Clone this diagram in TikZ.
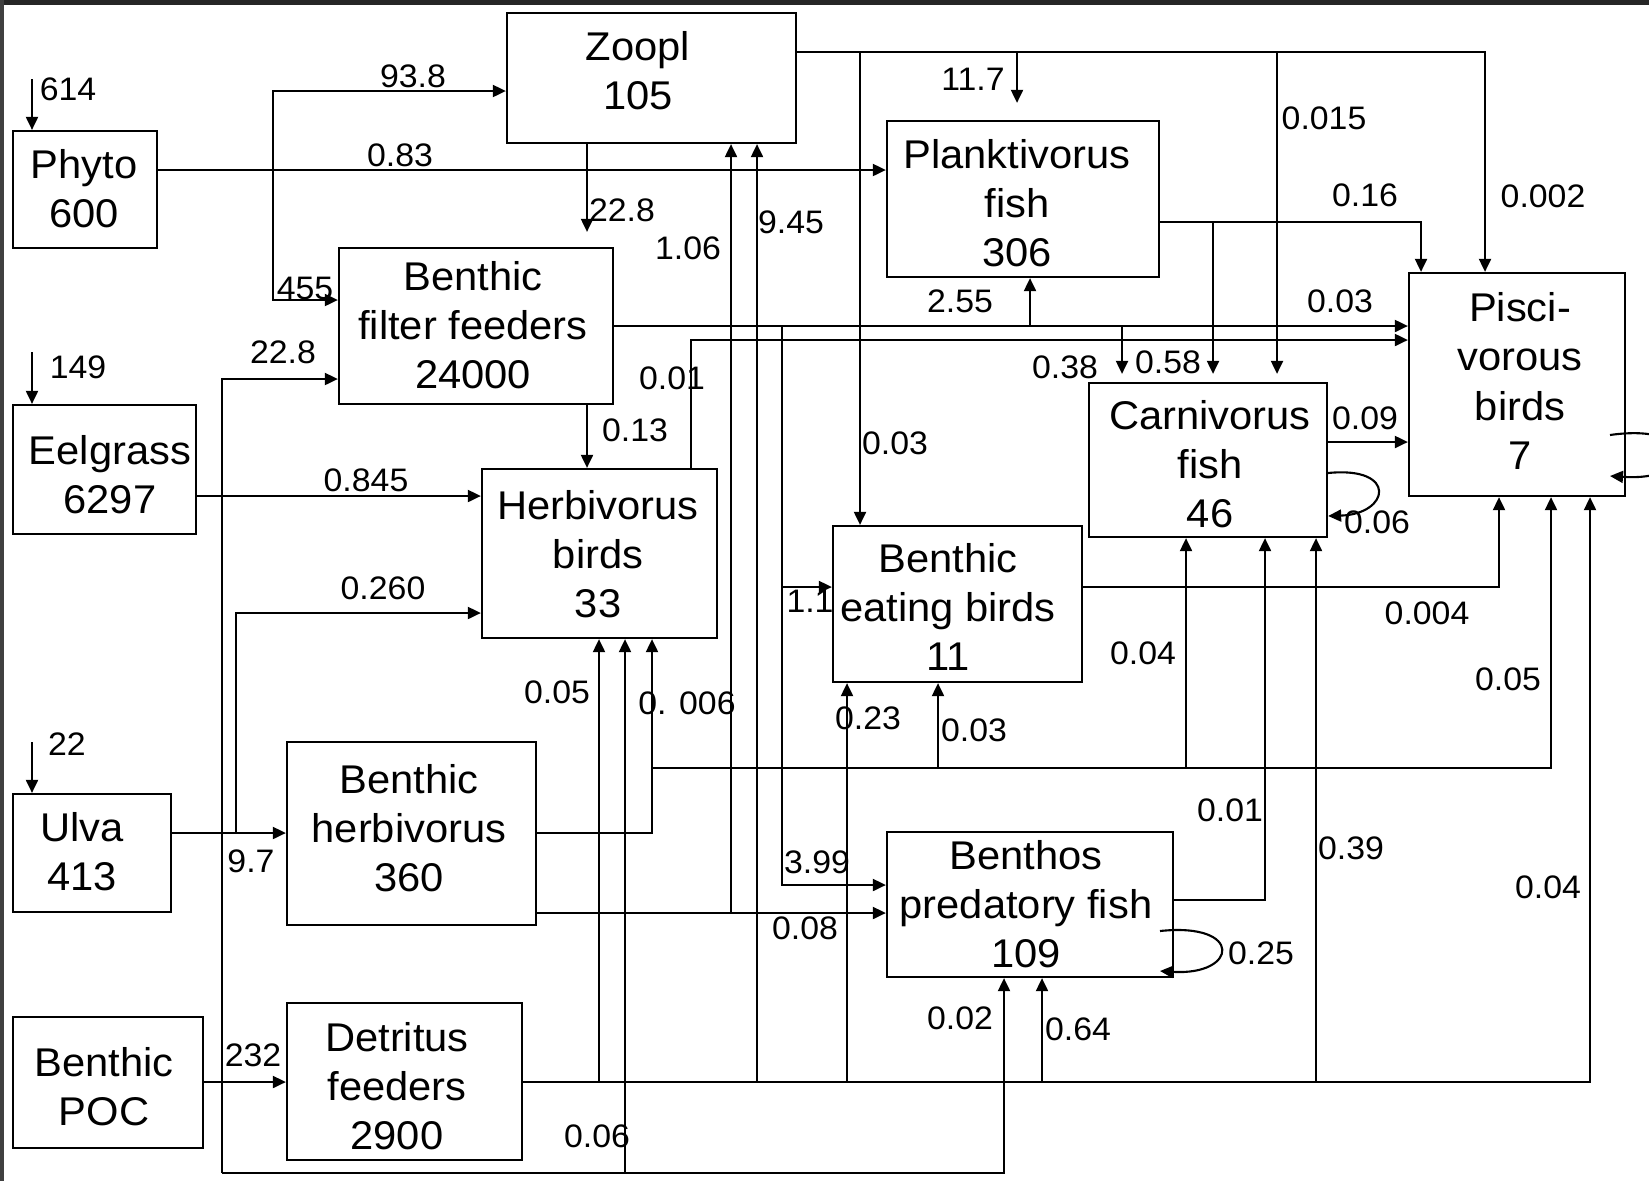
\documentclass[tikz,border=0pt]{standalone}
\usepackage{fontspec}
\setmainfont{Liberation Sans}[FakeStretch=1.04]
\usetikzlibrary{arrows.meta}
\newcommand\bxfont{\fontsize{11.4pt}{14pt}\selectfont}
\newcommand\lbfont{\fontsize{9.25pt}{11pt}\selectfont}
\begin{document}
\begin{tikzpicture}[x=0.01cm,y=-0.01cm,line width=0.6pt,
  box/.style={draw, line width=0.6pt, inner sep=0pt},
  btxt/.style={inner sep=0pt, align=center, font=\bxfont},
  lbl/.style={inner sep=0pt, font=\lbfont},
  arr/.style={-{Triangle[length=3.7pt,width=3.4pt]}}]
\clip (0,0) rectangle (1649,1181);
\fill[white] (0,0) rectangle (1649,1181);
\fill[black!85] (0,0) rectangle (1649,5);
\fill[black!75] (0,0) rectangle (4,1181);

% boxes
\node[box, minimum width=1.44cm, minimum height=1.17cm] (phyto) at (85,189.5) {};
\node[box, minimum width=2.89cm, minimum height=1.30cm] (zoopl) at (651.5,78) {};
\node[box, minimum width=2.72cm, minimum height=1.56cm] (plank) at (1023,199) {};
\node[box, minimum width=2.16cm, minimum height=2.23cm] (pisci) at (1517,384.5) {};
\node[box, minimum width=2.74cm, minimum height=1.56cm] (bff) at (476,326) {};
\node[box, minimum width=1.83cm, minimum height=1.29cm] (eel) at (104.5,469.5) {};
\node[box, minimum width=2.35cm, minimum height=1.69cm] (herb) at (599.5,553.5) {};
\node[box, minimum width=2.38cm, minimum height=1.54cm] (carn) at (1208,460) {};
\node[box, minimum width=2.49cm, minimum height=1.56cm] (beb) at (957.5,604) {};
\node[box, minimum width=1.58cm, minimum height=1.18cm] (ulva) at (92,853) {};
\node[box, minimum width=2.49cm, minimum height=1.83cm] (bherb) at (411.5,833.5) {};
\node[box, minimum width=2.86cm, minimum height=1.45cm] (bpf) at (1030,904.5) {};
\node[box, minimum width=1.90cm, minimum height=1.31cm] (poc) at (108,1082.5) {};
\node[box, minimum width=2.35cm, minimum height=1.57cm] (det) at (404.5,1081.5) {};

% box texts
\node[btxt] (phyto-t) at (84,189) {Phyto\\600};
\node[btxt] (zoopl-t) at (638,71) {Zoopl\\105};
\node[btxt] (plank-t) at (1017,203) {Planktivorus\\fish\\306};
\node[btxt] (pisci-t) at (1520,381) {Pisci-\\vorous\\birds\\7};
\node[btxt] (bff-t) at (473,325) {Benthic\\filter feeders\\24000};
\node[btxt] (eel-t) at (110,475) {Eelgrass\\6297};
\node[btxt] (herb-t) at (598,554) {Herbivorus\\birds\\33};
\node[btxt] (carn-t) at (1210,464) {Carnivorus\\fish\\46};
\node[btxt] (beb-t) at (948,607) {Benthic\\eating birds\\11};
\node[btxt] (ulva-t) at (82,852) {Ulva\\413};
\node[btxt] (bherb-t) at (409,828) {Benthic\\herbivorus\\360};
\node[btxt] (bpf-t) at (1026,904) {Benthos\\predatory fish\\109};
\node[btxt] (poc-t) at (104,1087) {Benthic\\POC};
\node[btxt] (det-t) at (397,1086) {Detritus\\feeders\\2900};

% free ends
\coordinate (i614) at (32,79);
\coordinate (i149) at (32,352);
\coordinate (i22) at (32,742);
\coordinate (pl1) at (1610,435);
\coordinate (pl2) at (1610,476);
\coordinate (bl1) at (1160,931);
\coordinate (bl2) at (1160,971);

% inputs
\draw[arr] (i614) -- (phyto.north -| i614);
\draw[arr] (i149) -- (eel.north -| i149);
\draw[arr] (i22) -- (ulva.north -| i22);

% phyto
\draw[arr] (phyto.east |- 0,170) -- (plank.west |- 0,170);
\draw[arr] (273,170) -- (273,91) -- (zoopl.west |- 0,91);
\draw[arr] (273,170) -- (273,300) -- (bff.west |- 0,300);

% left / bottom line
\draw[arr] (222,1173) -- (222,379) -- (bff.west |- 0,379);
\draw[arr] (222,1173) -- (1004,1173) -- (bpf.south -| 1004,0);
\draw[arr] (625,1173) -- (herb.south -| 625,0);

% zoopl
\draw[arr] (zoopl.east |- 0,52) -- (1485,52) -- (pisci.north -| 1485,0);
\draw[arr] (860,52) -- (beb.north -| 860,0);
\draw[arr, shorten >=0.17cm] (1017,52) -- (plank.north -| 1017,0);
\draw[arr, shorten >=0.08cm] (1277,52) -- (carn.north -| 1277,0);
\draw[arr, shorten >=0.15cm] (zoopl.south -| 587,0) -- (bff.north -| 587,0);
\draw[arr] (731,913) -- (zoopl.south -| 731,0);
\draw[arr] (757,1082) -- (zoopl.south -| 757,0);

% benthic filter feeders
\draw[arr] (bff.east |- 0,326) -- (pisci.west |- 0,326);
\draw[arr] (782,326) -- (782,885) -- (bpf.west |- 0,885);
\draw[arr] (782,587) -- (beb.west |- 0,587);
\draw[arr] (1030,326) -- (plank.south -| 1030,0);
\draw[arr, shorten >=0.08cm] (1122,326) -- (carn.north -| 1122,0);
\draw[arr] (bff.south -| 587,0) -- (herb.north -| 587,0);

% herbivorus birds
\draw[arr] (herb.north -| 691,0) -- (691,340) -- (pisci.west |- 0,340);

% planktivorus fish
\draw[arr] (plank.east |- 0,222) -- (1421,222) -- (pisci.north -| 1421,0);
\draw[arr, shorten >=0.08cm] (1213,222) -- (carn.north -| 1213,0);

% carnivorus fish
\draw[arr] (carn.east |- 0,442) -- (pisci.west |- 0,442);
\draw[arr] (carn.east |- 0,473) .. controls (1398,466) and (1390,514) .. (carn.east |- 0,516);

% pisci loop
\draw[arr] (pl1) .. controls (1700,422) and (1700,482) .. (pl2);

% benthic eating birds
\draw[arr] (beb.east |- 0,587) -- (1499,587) -- (pisci.south -| 1499,0);

% benthic herbivorus
\draw[arr] (bherb.east |- 0,833) -- (652,833) -- (herb.south -| 652,0);
\draw[arr] (652,768) -- (1551,768) -- (pisci.south -| 1551,0);
\draw[arr] (938,768) -- (beb.south -| 938,0);
\draw[arr] (1186,768) -- (carn.south -| 1186,0);
\draw[arr] (bherb.east |- 0,913) -- (bpf.west |- 0,913);

% ulva
\draw[arr] (ulva.east |- 0,833) -- (bherb.west |- 0,833);
\draw[arr] (236,833) -- (236,613) -- (herb.west |- 0,613);

% eelgrass
\draw[arr] (eel.east |- 0,496) -- (herb.west |- 0,496);

% detritus feeders
\draw[arr] (det.east |- 0,1082) -- (1590,1082) -- (pisci.south -| 1590,0);
\draw[arr] (599,1082) -- (herb.south -| 599,0);
\draw[arr] (847,1082) -- (beb.south -| 847,0);
\draw[arr] (1042,1082) -- (bpf.south -| 1042,0);
\draw[arr] (1316,1082) -- (carn.south -| 1316,0);

% benthic POC
\draw[arr] (poc.east |- 0,1082) -- (det.west |- 0,1082);

% benthos predatory fish
\draw[arr] (bpf.east |- 0,900) -- (1265,900) -- (carn.south -| 1265,0);
\draw[arr] (bl1) .. controls (1244,922) and (1238,976) .. (bl2);

% labels
\node[lbl] (l614) at (68,89) {614};
\node[lbl] (l938) at (413,76) {93.8};
\node[lbl] (l083) at (400,155) {0.83};
\node[lbl] (l455) at (305,288) {455};
\node[lbl] (l228a) at (283,352) {22.8};
\node[lbl] (l149) at (78,367) {149};
\node[lbl] (l228b) at (622,210) {22.8};
\node[lbl] (l106) at (688,248) {1.06};
\node[lbl] (l945) at (791,222) {9.45};
\node[lbl] (l001a) at (672,378) {0.01};
\node[lbl] (l117) at (973,79) {11.7};
\node[lbl] (l255) at (960,301) {2.55};
\node[lbl] (l038) at (1065,367) {0.38};
\node[lbl] (l058) at (1168,362) {0.58};
\node[lbl] (l0015) at (1324,118) {0.015};
\node[lbl] (l016) at (1365,195) {0.16};
\node[lbl] (l0002) at (1543,196) {0.002};
\node[lbl] (l003a) at (1340,301) {0.03};
\node[lbl] (l0845) at (366,480) {0.845};
\node[lbl] (l0260) at (383,588) {0.260};
\node[lbl] (l22) at (67,744) {22};
\node[lbl] (l013) at (635,430) {0.13};
\node[lbl] (l11) at (810,601) {1.1};
\node[lbl] (l005a) at (557,692) {0.05};
\node[lbl] (l0006) at (687,703) {0. 006};
\node[lbl] (l003b) at (895,443) {0.03};
\node[lbl] (l023) at (868,718) {0.23};
\node[lbl] (l003c) at (974,730) {0.03};
\node[lbl] (l004a) at (1143,653) {0.04};
\node[lbl] (l009) at (1365,418) {0.09};
\node[lbl] (l006a) at (1377,522) {0.06};
\node[lbl] (l0004) at (1427,613) {0.004};
\node[lbl] (l005b) at (1508,679) {0.05};
\node[lbl] (l97) at (251,861) {9.7};
\node[lbl] (l232) at (253,1055) {232};
\node[lbl] (l399) at (817,862) {3.99};
\node[lbl] (l008) at (805,928) {0.08};
\node[lbl] (l006b) at (597,1136) {0.06};
\node[lbl] (l001b) at (1230,810) {0.01};
\node[lbl] (l002) at (960,1018) {0.02};
\node[lbl] (l064) at (1078,1029) {0.64};
\node[lbl] (l025) at (1261,953) {0.25};
\node[lbl] (l039) at (1351,848) {0.39};
\node[lbl] (l004b) at (1548,887) {0.04};
\end{tikzpicture}
\end{document}
